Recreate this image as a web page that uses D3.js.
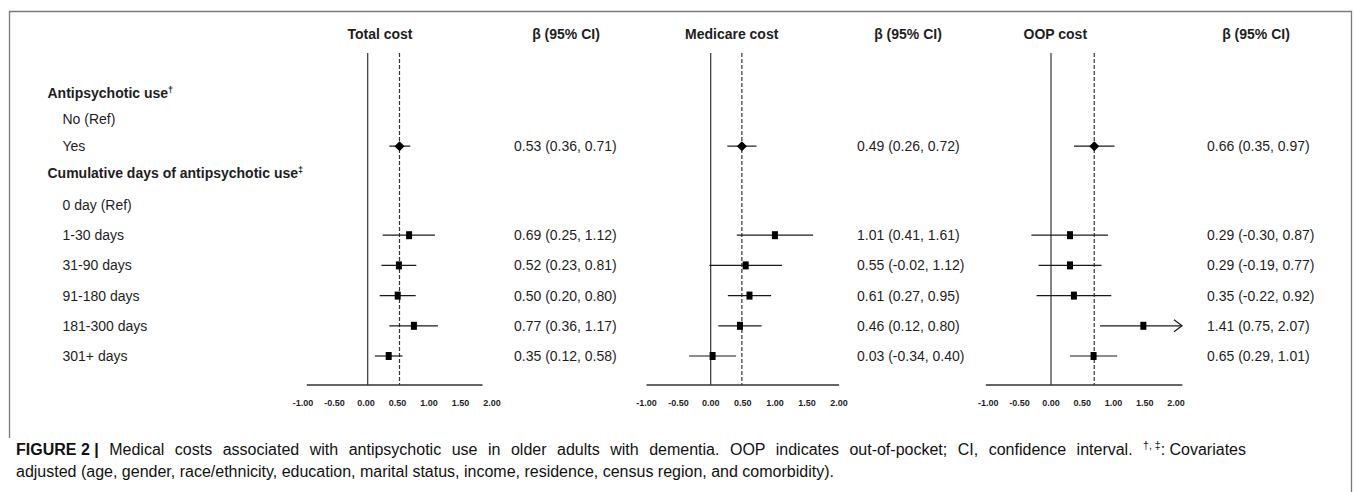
<!DOCTYPE html>
<html>
<head>
<meta charset="utf-8">
<script src="https://cdn.jsdelivr.net/npm/d3@7"></script>
<style>
  body { margin: 0; background: #fff; }
  svg { font-family: Arial, "Liberation Sans", Helvetica, sans-serif; }
</style>
</head>
<body>
<svg width="1355" height="492"></svg>
<script>
// forest plot rows
let row_labels = [
  "Antipsychotic use",
  "No (Ref)",
  "Yes",
  "Cumulative days of antipsychotic use",
  "0 day (Ref)",
  "1-30 days",
  "31-90 days",
  "91-180 days",
  "181-300 days",
  "301+ days"
];
let row_marks = ["†", "", "", "‡", "", "", "", "", "", ""];
let header_rows = ["Antipsychotic use", "Cumulative days of antipsychotic use"];
let diamond_rows = ["Yes"];

let panel_titles = ["Total cost", "Medicare cost", "OOP cost"];
let ci_title = "β (95% CI)";

// beta and 95% CI, one entry per row (null = nothing drawn)
let total_beta = [null, null, 0.53, null, null, 0.69, 0.52, 0.5, 0.77, 0.35];
let total_lo = [null, null, 0.36, null, null, 0.25, 0.23, 0.2, 0.36, 0.12];
let total_hi = [null, null, 0.71, null, null, 1.12, 0.81, 0.8, 1.17, 0.58];

let medicare_beta = [null, null, 0.49, null, null, 1.01, 0.55, 0.61, 0.46, 0.03];
let medicare_lo = [null, null, 0.26, null, null, 0.41, -0.02, 0.27, 0.12, -0.34];
let medicare_hi = [null, null, 0.72, null, null, 1.61, 1.12, 0.95, 0.8, 0.4];

let oop_beta = [null, null, 0.66, null, null, 0.29, 0.29, 0.35, 1.41, 0.65];
let oop_lo = [null, null, 0.35, null, null, -0.3, -0.19, -0.22, 0.75, 0.29];
let oop_hi = [null, null, 0.97, null, null, 0.87, 0.77, 0.92, 2.07, 1.01];

let tick_values = [-1, -0.5, 0, 0.5, 1, 1.5, 2];
let axis_max = 2;

let caption_bold = "FIGURE 2 |";
let caption_1 = " Medical costs associated with antipsychotic use in older adults with dementia. OOP indicates out-of-pocket; CI, confidence interval. ";
let caption_marks = "†, ‡";
let caption_1b = ": Covariates";
let caption_2 = "adjusted (age, gender, race/ethnicity, education, marital status, income, residence, census region, and comorbidity).";

// ---- layout (pixels) ----
let panel_layout = [
  { zero: 367.7, unit: 60, tick_zero: 366, tick_unit: 63, axis_from: -0.94, axis_to: 1.85, title_x: 380, ci_head_x: 566, ci_text_x: 514 },
  { zero: 710.7, unit: 63.6, tick_zero: 710.7, tick_unit: 64.2, axis_from: -1, axis_to: 2, title_x: 731.7, ci_head_x: 908, ci_text_x: 857 },
  { zero: 1051, unit: 65.5, tick_zero: 1050.9, tick_unit: 62.6, axis_from: -1.04, axis_to: 2.1, title_x: 1055.3, ci_head_x: 1256, ci_text_x: 1207 }
];
let line_top = 53;
let axis_y = 385;
let text_color = "#1e1e1e";
let line_color = "#333";
let caption_left = 16;
let caption_right = 1246;

let fmt = d3.formatLocale({ decimal: ".", thousands: ",", grouping: [3], currency: ["", ""], minus: "-" }).format(".2f");

let svg = d3.select("svg");

// frame round the figure
let frame = svg.append("g").attr("stroke", "#7a7a7a").attr("stroke-width", 1.3).attr("fill", "none");
frame.append("path").attr("d", d3.line()([[9.5, 438], [9.5, 11.5], [1351.5, 11.5], [1351.5, 492]]));

// row positions: two blocks with their own spacing
let y_top = d3.scalePoint().domain(row_labels.slice(0, 4)).range([93, 172.7]);
let y_bot = d3.scalePoint().domain(row_labels.slice(4)).range([205, 356]);
let y = label => (y_top.domain().includes(label) ? y_top(label) : y_bot(label));

// row labels
let labels = svg
  .append("g")
  .attr("font-size", "14px")
  .attr("fill", text_color)
  .selectAll("text")
  .data(row_labels)
  .enter()
  .append("text")
  .attr("x", d => (header_rows.includes(d) ? 47.5 : 62.5))
  .attr("y", d => y(d))
  .attr("dy", "0.35em")
  .attr("font-weight", d => (header_rows.includes(d) ? "bold" : "normal"))
  .text(d => d);
labels
  .append("tspan")
  .attr("font-size", "9px")
  .attr("dy", "-0.55em")
  .text((d, i) => row_marks[i]);

let panels = [
  { beta: total_beta, lo: total_lo, hi: total_hi },
  { beta: medicare_beta, lo: medicare_lo, hi: medicare_hi },
  { beta: oop_beta, lo: oop_lo, hi: oop_hi }
];

panels.forEach((p, k) => {
  let L = panel_layout[k];
  let x = d3.scaleLinear().domain([0, 1]).range([L.zero, L.zero + L.unit]);
  let x_tick = d3.scaleLinear().domain([0, 1]).range([L.tick_zero, L.tick_zero + L.tick_unit]);
  let g = svg.append("g").attr("class", "panel");

  // headers
  g.append("text")
    .attr("x", L.title_x)
    .attr("y", 34)
    .attr("dy", "0.35em")
    .attr("text-anchor", "middle")
    .attr("font-size", "14px")
    .attr("font-weight", "bold")
    .attr("fill", text_color)
    .text(panel_titles[k]);
  g.append("text")
    .attr("x", L.ci_head_x)
    .attr("y", 34)
    .attr("dy", "0.35em")
    .attr("text-anchor", "middle")
    .attr("font-size", "14px")
    .attr("font-weight", "bold")
    .attr("fill", text_color)
    .text(ci_title);

  // no-effect line and overall estimate line
  g.append("line")
    .attr("x1", x(0)).attr("x2", x(0))
    .attr("y1", line_top).attr("y2", axis_y)
    .attr("stroke", line_color).attr("stroke-width", 1.2);
  let overall = p.beta[row_labels.indexOf("Yes")];
  g.append("line")
    .attr("x1", x(overall)).attr("x2", x(overall))
    .attr("y1", line_top).attr("y2", axis_y)
    .attr("stroke", line_color).attr("stroke-width", 1.2)
    .attr("stroke-dasharray", "4,2");

  // x axis
  g.append("line")
    .attr("x1", x_tick(L.axis_from)).attr("x2", x_tick(L.axis_to))
    .attr("y1", axis_y).attr("y2", axis_y)
    .attr("stroke", line_color).attr("stroke-width", 1.3);
  g.selectAll(".tick")
    .data(tick_values)
    .enter()
    .append("text")
    .attr("class", "tick")
    .attr("x", d => x_tick(d))
    .attr("y", axis_y + 18)
    .attr("dy", "0.35em")
    .attr("text-anchor", "middle")
    .attr("font-size", "9px")
    .attr("font-weight", "bold")
    .attr("fill", text_color)
    .text(d => fmt(d));

  let rows = row_labels
    .map((label, i) => ({ label, beta: p.beta[i], lo: p.lo[i], hi: p.hi[i] }))
    .filter(d => d.beta !== null);

  // confidence intervals
  g.selectAll(".ci")
    .data(rows)
    .enter()
    .append("line")
    .attr("class", "ci")
    .attr("x1", d => x(d.lo))
    .attr("x2", d => x(Math.min(d.hi, axis_max)))
    .attr("y1", d => y(d.label))
    .attr("y2", d => y(d.label))
    .attr("stroke", "#1a1a1a")
    .attr("stroke-width", 1.2);

  // open arrow where the interval runs past the axis
  g.selectAll(".arrow")
    .data(rows.filter(d => d.hi > axis_max))
    .enter()
    .append("path")
    .attr("class", "arrow")
    .attr("fill", "none")
    .attr("stroke", "#1a1a1a")
    .attr("stroke-width", 1.2)
    .attr("d", d => {
      let tx = x(axis_max), ty = y(d.label);
      return d3.line()([[tx - 8, ty - 6], [tx, ty], [tx - 8, ty + 6]]);
    });

  // point estimates
  g.selectAll(".est")
    .data(rows)
    .enter()
    .append("path")
    .attr("class", "est")
    .attr("fill", "#000")
    .attr("d", d => {
      let cx = x(d.beta), cy = y(d.label);
      if (diamond_rows.includes(d.label)) {
        return d3.line()([[cx - 5, cy], [cx, cy - 5], [cx + 5, cy], [cx, cy + 5]]) + "Z";
      }
      return d3.line()([[cx - 3, cy - 4], [cx + 3, cy - 4], [cx + 3, cy + 4], [cx - 3, cy + 4]]) + "Z";
    });

  // beta (95% CI) text
  g.selectAll(".ci-text")
    .data(rows)
    .enter()
    .append("text")
    .attr("class", "ci-text")
    .attr("x", L.ci_text_x)
    .attr("y", d => y(d.label))
    .attr("dy", "0.35em")
    .attr("font-size", "14px")
    .attr("fill", text_color)
    .text(d => `${fmt(d.beta)} (${fmt(d.lo)}, ${fmt(d.hi)})`);
});

// caption, first line justified to the right margin (only the body words get the extra space)
let cap = svg.append("g").attr("font-size", "16px").attr("fill", "#111");
let c1 = cap.append("text").attr("x", caption_left).attr("y", 455);
c1.append("tspan").attr("font-weight", "bold").text(caption_bold);
let body = c1.append("tspan").text(caption_1);
c1.append("tspan").attr("font-size", "10.5px").attr("dy", "-6").text(caption_marks);
c1.append("tspan").attr("dy", "6").text(caption_1b);
let natural = c1.node().getComputedTextLength();
let n_spaces = caption_1.split(" ").length - 1;
body.attr("word-spacing", Math.max(0, (caption_right - caption_left - natural) / n_spaces));
cap.append("text").attr("x", caption_left).attr("y", 477).text(caption_2);
</script>
</body>
</html>
